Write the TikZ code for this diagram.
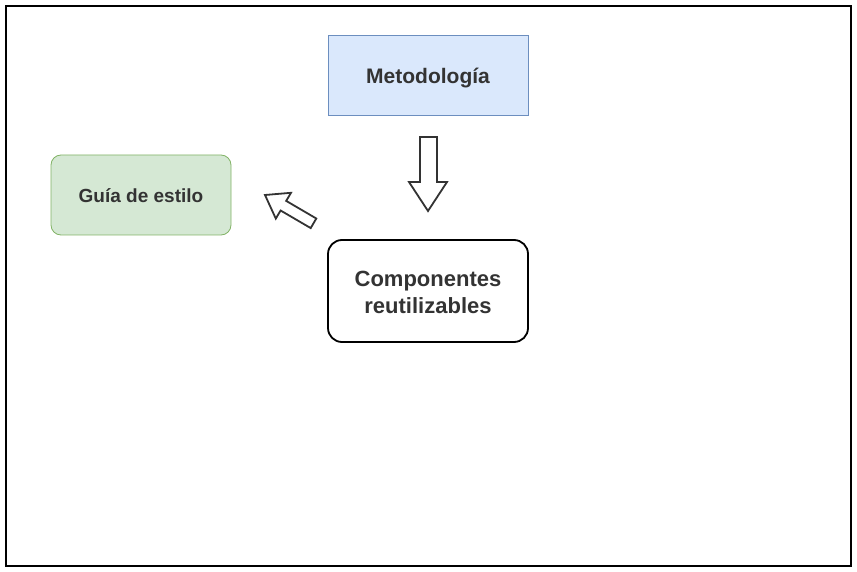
\documentclass[tikz,border=0pt]{standalone}
\usepackage{fontspec}
\setmainfont{Liberation Sans}
\definecolor{txt}{HTML}{333333}
\definecolor{bluefill}{HTML}{DAE8FC}
\definecolor{blueline}{HTML}{6C8EBF}
\definecolor{greenfill}{HTML}{D5E8D4}
\definecolor{greenline}{HTML}{82B366}
\begin{document}
\begin{tikzpicture}[x=1pt,y=-1pt,
  box/.style={minimum width=200pt,inner sep=0pt,align=center,font=\bfseries,text=txt},
  bigarrow/.style={draw=txt,line width=1.8pt,fill=white,line join=miter}]
\useasboundingbox (0,0) rectangle (857,572);
\node[draw=black,line width=2pt,minimum width=845pt,minimum height=560pt,inner sep=0pt] (frame) at (428.5,286) {};
\node[box,draw=blueline,fill=bluefill,line width=0.8pt,minimum height=80pt,text height=18pt,text depth=0pt,font=\bfseries\fontsize{21}{25}\selectfont] (meto) at (428,75) {Metodología};
\node[box,draw=greenline,fill=greenfill,line width=0.8pt,rounded corners=10pt,minimum width=180pt,minimum height=80pt,text height=14.4pt,text depth=0pt,font=\bfseries\fontsize{19}{23}\selectfont] (guia) at (141,195) {Guía de estilo};
\node[box,draw=black,line width=1.8pt,rounded corners=14pt,minimum height=102pt,text height=44pt,text depth=0pt,font=\bfseries\fontsize{22}{27}\selectfont] (comp) at (428,291) {Componentes\\reutilizables};
% down arrow
\draw[bigarrow] (420,137) -- (437,137) -- (437,182) -- (447,182) -- (428,211) -- (409,182) -- (420,182) -- cycle;
% diagonal arrow
\draw[bigarrow] (316.3,218.5) -- (286.2,200.9) -- (291.0,192.8) -- (265,195) -- (275.8,218.6) -- (280.6,210.5) -- (310.7,228.1) -- cycle;
\end{tikzpicture}
\end{document}
